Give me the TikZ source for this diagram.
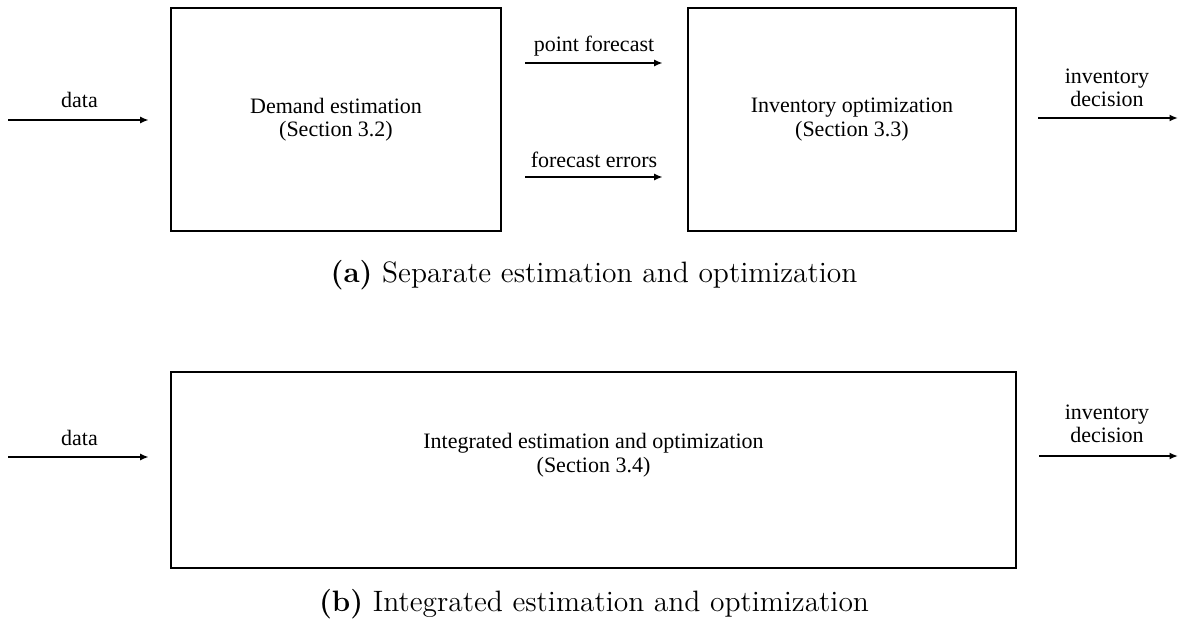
\documentclass[tikz,border=0pt]{standalone}
\usepackage{fontspec}
\setmainfont{Liberation Serif}
\newfontfamily\capfont{lmroman12-regular}[Extension=.otf,BoldFont=lmroman12-bold]
\usetikzlibrary{arrows.meta,calc}

\begin{document}
\begin{tikzpicture}[x=1pt,y=-1pt,
  blk/.style={draw, line width=2.6pt, inner sep=0pt, align=center,
    font=\fontsize{22}{23.5}\selectfont},
  arr/.style={line width=2pt, -{Latex[length=8.5pt,width=7pt]}},
  lbl/.style={inner sep=0pt, align=center, font=\fontsize{22}{23.5}\selectfont},
  subcap/.style={inner sep=0pt, anchor=base, font=\capfont\fontsize{29.5}{32}\selectfont}]
\useasboundingbox (0,0) rectangle (1180,630);

% ---- (a) separate estimation and optimization ----
\node[blk, minimum width=330pt, minimum height=223pt] (est) at (336,119.5)
  {Demand estimation\\(Section 3.2)};
\node[blk, minimum width=328pt, minimum height=223pt] (opt) at (852,119.5)
  {Inventory optimization\\(Section 3.3)};

\coordinate (ina) at (8,120);
\coordinate (pfy) at (0,63);
\coordinate (fey) at (0,177);
\coordinate (outay) at (0,118);
\coordinate (outa) at (1178,118);

\draw[arr, shorten >=21pt] (ina) -- (est.west |- ina);
\draw[arr, shorten <=23pt, shorten >=24pt] (est.east |- pfy) -- (opt.west |- pfy);
\draw[arr, shorten <=23pt, shorten >=24pt] (est.east |- fey) -- (opt.west |- fey);
\draw[arr, shorten <=21pt] (opt.east |- outay) -- (outa);

\node[lbl, anchor=base] (dataa) at (79.5,107) {data};
\node[lbl, anchor=base] (pf) at (594,51) {point forecast};
\node[lbl, anchor=base] (fe) at (594,167) {forecast errors};
\node[lbl, anchor=south] (deca) at (1107,107) {inventory\\decision};

\node[subcap] (capa) at (594,282) {\textbf{(a)} Separate estimation and optimization};

% ---- (b) integrated estimation and optimization ----
\node[draw, line width=2.6pt, minimum width=845pt, minimum height=196pt] (integ) at (593.5,470) {};
\node[lbl] (integt) at (593.5,455)
  {Integrated estimation and optimization\\(Section 3.4)};

\coordinate (inb) at (8,457);
\coordinate (outby) at (0,456);
\coordinate (outb) at (1178,456);

\draw[arr, shorten >=21pt] (inb) -- (integ.west |- inb);
\draw[arr, shorten <=22pt] (integ.east |- outby) -- (outb);

\node[lbl, anchor=base] (datab) at (79.5,445) {data};
\node[lbl, anchor=south] (decb) at (1107,443) {inventory\\decision};

\node[subcap] (capb) at (594,611) {\textbf{(b)} Integrated estimation and optimization};
\end{tikzpicture}
\end{document}
